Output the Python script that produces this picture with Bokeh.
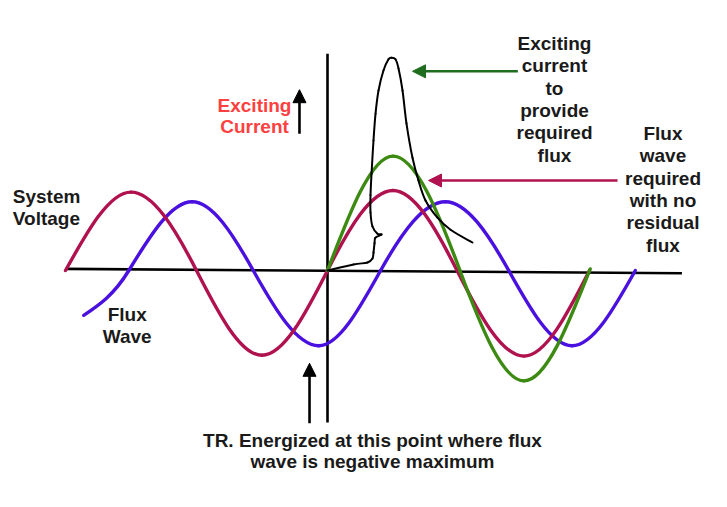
import math
from bokeh.plotting import figure
from bokeh.models import Arrow, NormalHead, Range1d
from bokeh.core.properties import value
from bokeh.embed import file_html
from bokeh.resources import INLINE

# ---------------- data (x: electrical degrees, 0 = switching instant; y: per unit) -------------
voltage_x = [-360, -270, -180, -90, 0, 90, 178, 270, 360]
voltage_y = [0, 0.98, 0, -1.06, 0, 1.0, 0, -1.07, 0]

flux_x = [-335, -273, -186, -102, -12, 73, 162, 249, 336, 423]
flux_y = [-0.56, 0, 0.86, 0, -0.94, 0, 0.86, 0, -0.94, 0]

req_flux_x = [0, 90, 182, 270, 361]
req_flux_y = [0, 1.43, 0, -1.38, 0.02]

current_x = [0, 35.7, 55.0, 61.8, 63.2, 64.6, 65.9, 74.2, 68.7, 61.8, 59.1, 59.1, 60.5, 63.2,
             66.0, 70.1, 76.9, 83.8, 87.9, 93.4, 97.6, 103.1, 108.5, 116.8, 125.0, 134.7,
             151.1, 169.0, 199.2]
current_y = [0, 0.075, 0.10, 0.15, 0.225, 0.34, 0.41, 0.45, 0.46, 0.55, 0.725, 0.94, 1.21, 1.625,
             1.96, 2.25, 2.5, 2.64, 2.66, 2.64, 2.525, 2.25, 1.84, 1.41, 1.125, 0.875,
             0.66, 0.51, 0.35]

axis_x = [-360, 487]
axis_y = [0.02, -0.034]

label_voltage = ["System", "Voltage"]
label_flux = ["Flux", "Wave"]
label_current = ["Exciting", "Current"]
label_required_current = ["Exciting", "current", "to", "provide", "required", "flux"]
label_required_flux = ["Flux", "wave", "required", "with no", "residual", "flux"]
label_energized = ["TR. Energized at this point where flux", "wave is negative maximum"]

# ---------------- styles ----------------
RED = "#b0124f"
BLUE = "#4a10e0"
GREEN = "#3c8a12"
GREEN_ARROW = "#1f6e1f"
TEXT = "#1a1a1a"
TEXT_RED = "#ff4040"
FONT = value("Liberation Sans")

PX_PER_DEG = 262 / 360.0
PX_PER_UNIT = 80.0
W, H = 711, 491
ORIGIN_PX = (327, 270)  # canvas pixel of (0 deg, 0 pu)
TEXT_SHIFT = 7 / PX_PER_UNIT

p = figure(width=W, height=H, output_backend="svg", toolbar_location=None,
           x_range=Range1d(-ORIGIN_PX[0] / PX_PER_DEG, (W - ORIGIN_PX[0]) / PX_PER_DEG),
           y_range=Range1d(-(H - ORIGIN_PX[1]) / PX_PER_UNIT, ORIGIN_PX[1] / PX_PER_UNIT),
           min_border=0)
p.axis.visible = False
p.grid.visible = False
p.outline_line_color = None
p.background_fill_color = "white"


def sine_beziers(xs, ys):
    """Bezier pieces through zero crossings / extremes of a hand-drawn sine wave."""
    n = len(xs)
    s = [0.0] * n
    for i in range(1, n - 1):
        if ys[i] == 0:
            s[i] = (math.pi / 2) * (ys[i + 1] - ys[i - 1]) / (xs[i + 1] - xs[i - 1])
    s[0] = (3 * (ys[1] - ys[0]) / (xs[1] - xs[0]) - s[1]) / 2
    s[-1] = (3 * (ys[-1] - ys[-2]) / (xs[-1] - xs[-2]) - s[-2]) / 2
    seg = dict(x0=[], y0=[], x1=[], y1=[], cx0=[], cy0=[], cx1=[], cy1=[])
    for i in range(n - 1):
        dx = xs[i + 1] - xs[i]
        seg["x0"].append(xs[i]); seg["y0"].append(ys[i])
        seg["x1"].append(xs[i + 1]); seg["y1"].append(ys[i + 1])
        seg["cx0"].append(xs[i] + dx / 3); seg["cy0"].append(ys[i] + s[i] * dx / 3)
        seg["cx1"].append(xs[i + 1] - dx / 3); seg["cy1"].append(ys[i + 1] - s[i + 1] * dx / 3)
    return seg


def smooth_beziers(xs, ys):
    """Catmull-Rom pieces through traced points."""
    n = len(xs)
    seg = dict(x0=[], y0=[], x1=[], y1=[], cx0=[], cy0=[], cx1=[], cy1=[])
    for i in range(n - 1):
        a = max(i - 1, 0)
        d = min(i + 2, n - 1)
        seg["x0"].append(xs[i]); seg["y0"].append(ys[i])
        seg["x1"].append(xs[i + 1]); seg["y1"].append(ys[i + 1])
        seg["cx0"].append(xs[i] + (xs[i + 1] - xs[a]) / 6)
        seg["cy0"].append(ys[i] + (ys[i + 1] - ys[a]) / 6)
        seg["cx1"].append(xs[i + 1] - (xs[d] - xs[i]) / 6)
        seg["cy1"].append(ys[i + 1] - (ys[d] - ys[i]) / 6)
    return seg


# axes
p.line(axis_x, axis_y, line_color="black", line_width=2.6)
p.line([0, 0], [2.71, -1.9], line_color="black", line_width=2.6)

# waves
p.bezier(**sine_beziers(flux_x, flux_y), line_color=BLUE, line_width=3.4, line_cap="round")
p.bezier(**sine_beziers(voltage_x, voltage_y), line_color=RED, line_width=3.4, line_cap="round")
p.bezier(**sine_beziers(req_flux_x, req_flux_y), line_color=GREEN, line_width=3.4, line_cap="round")
p.bezier(**smooth_beziers(current_x, current_y), line_color="black", line_width=2.0, line_cap="round")

# arrows
def arrow(x0, y0, x1, y1, color, width=2.6, size=13):
    p.add_layout(Arrow(end=NormalHead(size=size, fill_color=color, line_color=color, line_width=1),
                       x_start=x0, y_start=y0, x_end=x1, y_end=y1,
                       line_color=color, line_width=width))

arrow(261.6, 2.49, 116.8, 2.49, GREEN_ARROW)
arrow(398.5, 1.125, 138.8, 1.125, RED)
arrow(-38.5, 1.71, -38.5, 2.26, "black")
arrow(-24.7, -1.91, -24.7, -1.16, "black")


def text_block(lines, x, y_first, step, align="center", color=TEXT):
    p.text(x=[x] * len(lines),
           y=[y_first + TEXT_SHIFT - i * step for i in range(len(lines))], text=lines,
           text_font=FONT, text_font_style="bold", text_font_size="19px",
           text_align=align, text_baseline="alphabetic", text_color=color)


text_block(label_voltage, -432.4, 0.834, 0.271, align="left")
text_block(label_flux, -275.2, -0.634, 0.283)
text_block(label_current, -100.3, 1.975, 0.2625, color=TEXT_RED)
text_block(label_required_current, 311.9, 2.75, 0.279)
text_block(label_required_flux, 461.0, 1.625, 0.279)
text_block(label_energized, 61.8, -2.216, 0.2625)

open("out.html", "w").write(file_html(p, INLINE))
